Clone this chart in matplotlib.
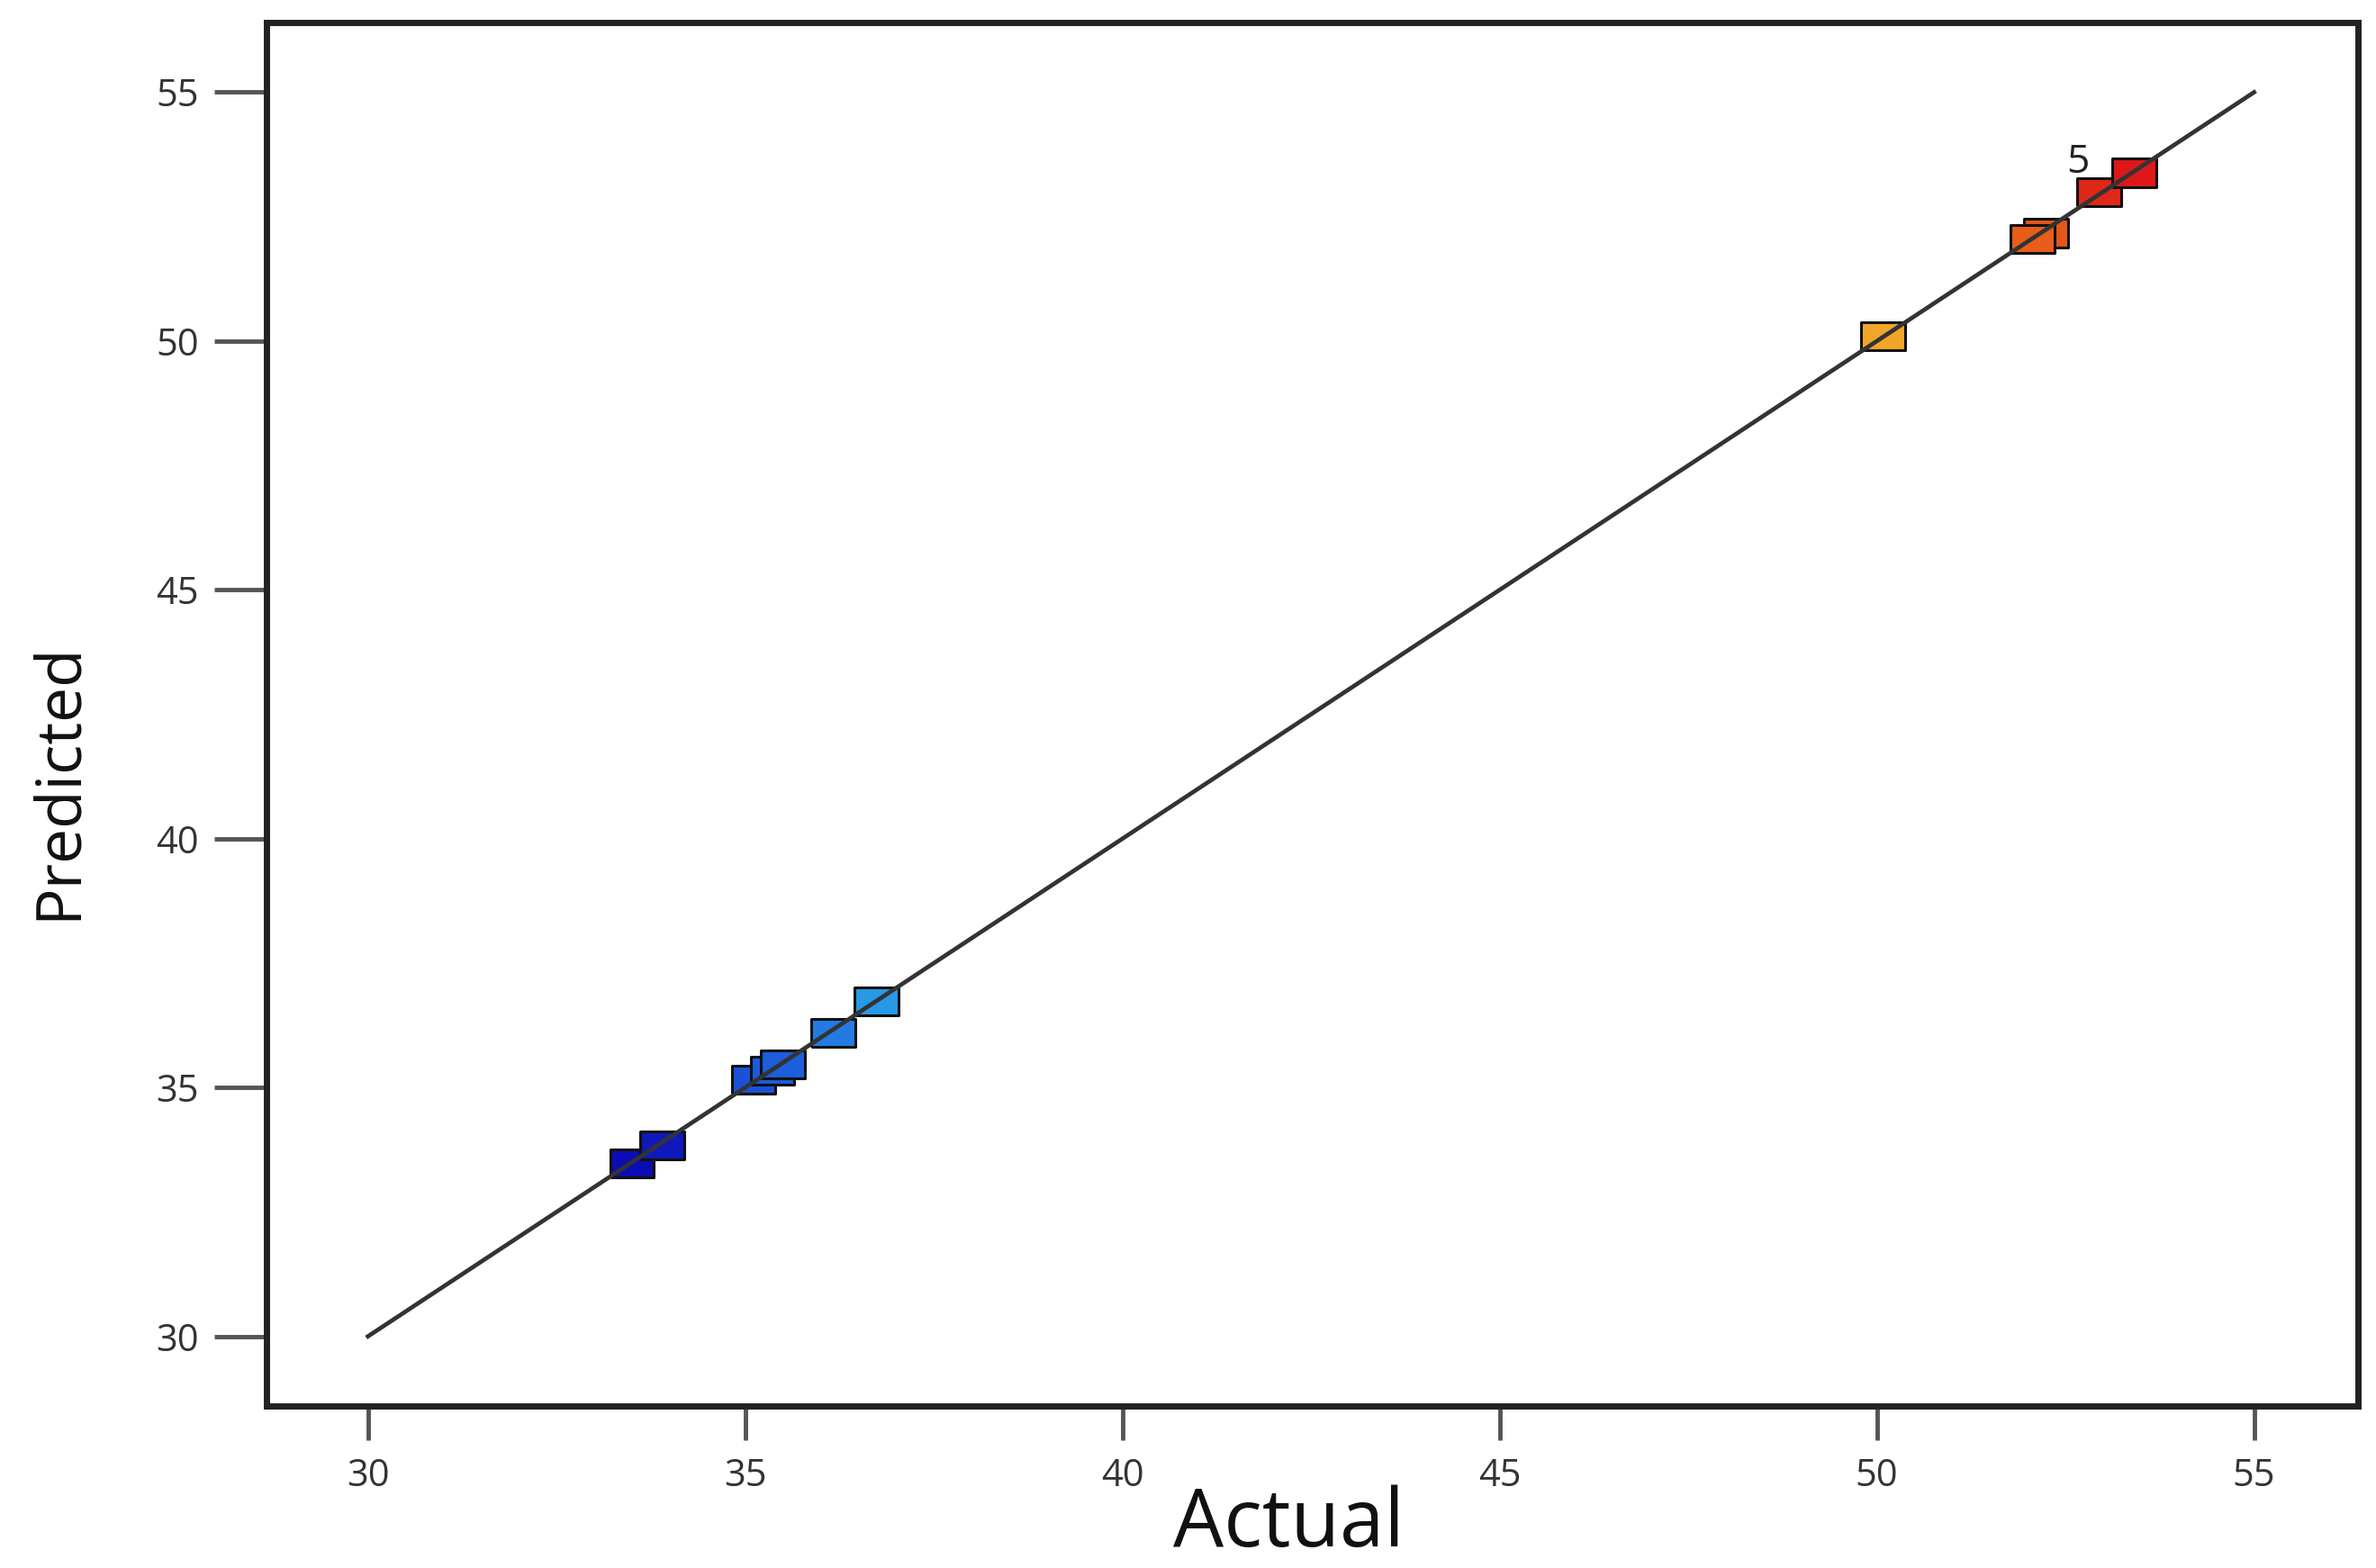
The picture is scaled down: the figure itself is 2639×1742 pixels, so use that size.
import matplotlib
matplotlib.use('Agg')
import matplotlib.pyplot as plt
from matplotlib.colors import LinearSegmentedColormap, Normalize
import numpy as np

plt.rcParams['font.family'] = ['Open Sans', 'DejaVu Sans']

# actual vs predicted values
actual = [33.50, 33.90, 35.11, 35.36, 35.50, 36.17, 36.74, 50.08, 52.24, 52.06, 52.95, 53.41]
predicted = [33.47, 33.84, 35.16, 35.34, 35.47, 36.10, 36.73, 50.09, 52.17, 52.05, 53.00, 53.38]
line_x = [30, 55]
line_y = [30, 55]
ticks = [30, 35, 40, 45, 50, 55]
point_label = '5'
point_label_xy = (52.67, 53.58)

# blue -> red colour ramp like the original software
cmap = LinearSegmentedColormap.from_list('de', [
    (0.00, '#0c0cb4'),
    (0.09, '#1c56dc'),
    (0.17, '#2aa2e8'),
    (0.50, '#40c070'),
    (0.83, '#f2aa2a'),
    (0.93, '#e8601a'),
    (1.00, '#de1818'),
])
norm = Normalize(vmin=min(predicted), vmax=max(predicted))

fig = plt.figure(figsize=(26.39, 17.42), dpi=100)
ax = fig.add_axes([0.112, 0.1033, 0.8805, 0.8823])

# rectangle marker (the original is stretched horizontally)
rect = [(-1, -0.64), (1, -0.64), (1, 0.64), (-1, 0.64), (-1, -0.64)]
ax.scatter(actual, predicted, c=[cmap(norm(v)) for v in predicted], marker=rect, s=35 ** 2,
           edgecolors='#111111', linewidths=2.2, zorder=3)
ax.plot(line_x, line_y, color='#333333', linewidth=3.4, zorder=4)
ax.text(point_label_xy[0], point_label_xy[1], point_label, fontsize=32, color='#222222',
        ha='center', va='center', zorder=2)

ax.set_xlim(28.65, 56.38)
ax.set_ylim(28.6, 56.4)
ax.set_xticks(ticks)
ax.set_yticks(ticks)

for s in ax.spines.values():
    s.set_linewidth(5)
    s.set_color('#222222')

ax.tick_params(axis='x', length=27, width=3.5, pad=14, labelsize=30, colors='#555555', labelcolor='#333333')
ax.tick_params(axis='y', length=42, width=3.5, pad=12, labelsize=30, colors='#555555', labelcolor='#333333')

ax.set_xlabel('Actual', fontsize=64, color='#111111')
ax.set_ylabel('Predicted', fontsize=50, color='#111111')
ax.xaxis.set_label_coords(0.489, -0.057)
ax.yaxis.set_label_coords(-0.084, 0.452)

fig.savefig('out.png', dpi=100)
